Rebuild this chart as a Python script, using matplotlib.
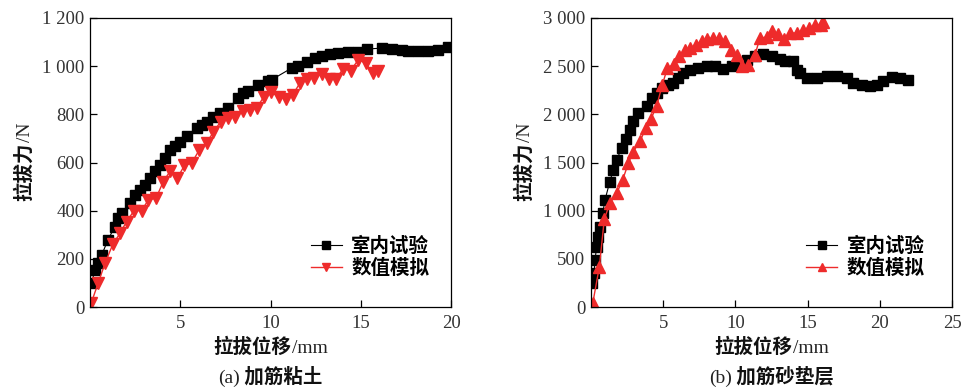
import matplotlib
matplotlib.use("Agg")
import matplotlib.pyplot as plt

# ---------------- data ----------------
# (a) reinforced clay
a_exp_x = [0.09, 0.28, 0.46, 0.65, 1.0, 1.38, 1.57, 1.75, 2.2, 2.5, 2.77, 3.05, 3.35, 3.6, 3.88,
           4.15, 4.43, 4.7, 4.99, 5.36, 5.91, 6.19, 6.46, 6.83, 7.2, 7.66, 8.22, 8.5, 8.77,
           9.33, 9.88, 10.07, 11.17, 11.54, 12.0, 12.47, 12.83, 13.3, 13.76, 14.3, 14.87,
           15.33, 16.16, 16.71, 17.27, 17.64, 18.19, 18.74, 19.3, 19.85]
a_exp_y = [101, 154, 181, 216, 280, 334, 369, 389, 431, 466, 486, 507, 535, 563, 590,
           618, 653, 667, 687, 708, 743, 757, 770, 791, 805, 826, 867, 888, 895,
           923, 937, 944, 992, 1002, 1016, 1034, 1043, 1050, 1054, 1057, 1057,
           1071, 1075, 1071, 1066, 1061, 1061, 1061, 1068, 1078]
a_sim_x = [0.06, 0.46, 0.83, 1.26, 1.66, 2.03, 2.44, 2.86, 3.23, 3.66, 4.06, 4.43, 4.84, 5.23,
           5.63, 6.06, 6.46, 6.83, 7.24, 7.63, 8.03, 8.46, 8.86, 9.23, 9.64, 10.05, 10.47,
           10.86, 11.23, 11.63, 12.04, 12.43, 12.83, 13.24, 13.63, 14.03, 14.44, 14.87,
           15.27, 15.66, 15.97]
a_sim_y = [15, 101, 181, 260, 306, 355, 400, 400, 445, 452, 521, 563, 535, 588,
           597, 653, 683, 725, 770, 784, 791, 812, 819, 826, 874, 891, 872,
           865, 881, 930, 948, 951, 969, 948, 948, 989, 982, 1027,
           1013, 971, 982]

# (b) reinforced sand cushion
b_exp_x = [0.05, 0.21, 0.28, 0.39, 0.51, 0.62, 0.81, 0.97, 1.3, 1.55, 1.78, 2.12, 2.4, 2.7, 2.93,
           3.28, 3.86, 4.2, 4.55, 4.89, 5.36, 5.7, 6.05, 6.39, 6.86, 7.43, 8.01, 8.59,
           9.16, 9.74, 10.32, 10.78, 11.36, 11.93, 12.51, 13.09, 13.43, 14.01, 14.24,
           14.47, 14.94, 15.63, 16.32, 17.02, 17.71, 18.17, 18.74, 19.32, 19.78, 20.24,
           20.82, 21.4, 21.98]
b_exp_y = [253, 350, 488, 627, 731, 835, 974, 1112, 1300, 1424, 1528, 1649, 1740, 1839, 1926,
           2013, 2082, 2168, 2220, 2272, 2307, 2324, 2376, 2428, 2463, 2480, 2498, 2498,
           2470, 2498, 2525, 2567, 2601, 2629, 2601, 2574, 2550, 2550, 2463,
           2428, 2376, 2376, 2394, 2400, 2376, 2324, 2307, 2290, 2307, 2342,
           2387, 2376, 2359]
b_sim_x = [0.12, 0.58, 0.92, 1.32, 1.78, 2.19, 2.59, 2.93, 3.39, 3.79, 4.16, 4.55, 4.94, 5.29,
           5.77, 6.12, 6.51, 6.86, 7.27, 7.66, 8.01, 8.43, 8.89, 9.28, 9.7, 10.09, 10.48,
           10.9, 11.36, 11.7, 12.17, 12.51, 12.97, 13.37, 13.78, 14.24, 14.66, 15.12,
           15.51, 15.93, 16.09]
b_sim_y = [38, 419, 911, 1084, 1181, 1320, 1493, 1614, 1718, 1857, 1954, 2089, 2307, 2480,
           2525, 2601, 2664, 2688, 2723, 2757, 2782, 2792, 2792, 2764, 2671, 2619, 2498,
           2515, 2619, 2792, 2802, 2861, 2837, 2782, 2844, 2844, 2872, 2896,
           2931, 2931, 2955]

legend_labels = ["室内试验", "数值模拟"]
xlabel_cn, xlabel_unit = "拉拔位移", "/mm"
ylabel_cn, ylabel_unit = "拉拔力", "/N"
captions = [("(a)", " 加筋粘土"), ("(b)", " 加筋砂垫层")]

a_xticks = [5, 10, 15, 20]
a_yticks = [0, 200, 400, 600, 800, 1000, 1200]
b_xticks = [5, 10, 15, 20, 25]
b_yticks = [0, 500, 1000, 1500, 2000, 2500, 3000]

# ---------------- style ----------------
RED = "#ee2b2b"
SERIF = "Liberation Serif"
CJK = ["Noto Sans CJK SC", "DejaVu Sans"]

W, H = 972, 389
fig = plt.figure(figsize=(W / 100, H / 100), dpi=100)

def px_axes(x0, x1, ytop, ybot):
    return fig.add_axes([x0 / W, 1 - ybot / H, (x1 - x0) / W, (ybot - ytop) / H])

ax1 = px_axes(90, 451, 18, 307)
ax2 = px_axes(591, 952, 18, 307)

def fmt(v):
    s = f"{int(v):,}".replace(",", " ")
    return s

def setup(ax, xlim, ylim, xt, yt):
    ax.set_xlim(*xlim)
    ax.set_ylim(*ylim)
    ax.set_xticks(xt)
    ax.set_yticks(yt)
    ax.set_xticklabels([fmt(v) for v in xt], family=SERIF, fontsize=13.5, color="#333333")
    ax.set_yticklabels([fmt(v) for v in yt], family=SERIF, fontsize=13.5, color="#333333")
    ax.tick_params(direction="in", length=5, width=0.9, top=False, right=False)
    ax.tick_params(axis="x", pad=6)
    ax.tick_params(axis="y", pad=4)
    for s in ax.spines.values():
        s.set_linewidth(0.9)

setup(ax1, (0, 20), (0, 1200), a_xticks, a_yticks)
setup(ax2, (0, 25), (0, 3000), b_xticks, b_yticks)

ax1.plot(a_exp_x, a_exp_y, color="black", lw=0.8, marker="s", ms=7, label=legend_labels[0], zorder=3)
ax1.plot(a_sim_x, a_sim_y, color=RED, lw=1.0, marker="v", ms=8.5, label=legend_labels[1], zorder=4)
ax2.plot(b_exp_x, b_exp_y, color="black", lw=0.8, marker="s", ms=7, label=legend_labels[0], zorder=3)
ax2.plot(b_sim_x, b_sim_y, color=RED, lw=1.0, marker="^", ms=8.5, label=legend_labels[1], zorder=4)

for ax, xa in ((ax1, 0.94), (ax2, 0.925)):
    for sp in ax.spines.values():
        sp.set_zorder(5)
    ax.legend(loc="lower right", bbox_to_anchor=(xa, 0.1), frameon=False, borderpad=0,
              borderaxespad=0, handlelength=1.6, handletextpad=0.5, labelspacing=0.15,
              markerscale=0.75, prop=dict(family=CJK, weight="bold", size=14))

# ---------------- mixed-font labels ----------------
renderer = fig.canvas.get_renderer()

def mixed(xc_px, yc_px, parts, rotation=0):
    """parts: list of (text, props). Centred at pixel (xc, yc) on the baseline."""
    texts = []
    for s, kw in parts:
        t = fig.text(0, 0, s, rotation=rotation, rotation_mode="anchor",
                     ha="left", va="baseline", **kw)
        texts.append(t)
    sizes = []
    for t in texts:
        bb = t.get_window_extent(renderer)
        sizes.append(bb.height if rotation == 90 else bb.width)
    total = sum(sizes)
    pos = -total / 2
    for t, sz in zip(texts, sizes):
        if rotation == 90:
            t.set_position((xc_px / W, 1 - (yc_px - pos) / H))
        else:
            t.set_position(((xc_px + pos) / W, 1 - yc_px / H))
        pos += sz

cjk_b = dict(family=CJK, weight="bold", fontsize=14, color="#111111")
ser = dict(family=SERIF, fontsize=14, color="#222222")

for ax_c in (270.5, 771.5):
    mixed(ax_c, 353, [(xlabel_cn, cjk_b), (xlabel_unit, ser)])
for lab_x in (30, 530):
    mixed(lab_x, 162, [(ylabel_cn, cjk_b), (ylabel_unit, ser)], rotation=90)

for ax_c, (p1, p2) in zip((270.5, 771.5), captions):
    mixed(ax_c, 383, [(p1, ser), (p2, cjk_b)])

fig.savefig("out.png", dpi=100)
